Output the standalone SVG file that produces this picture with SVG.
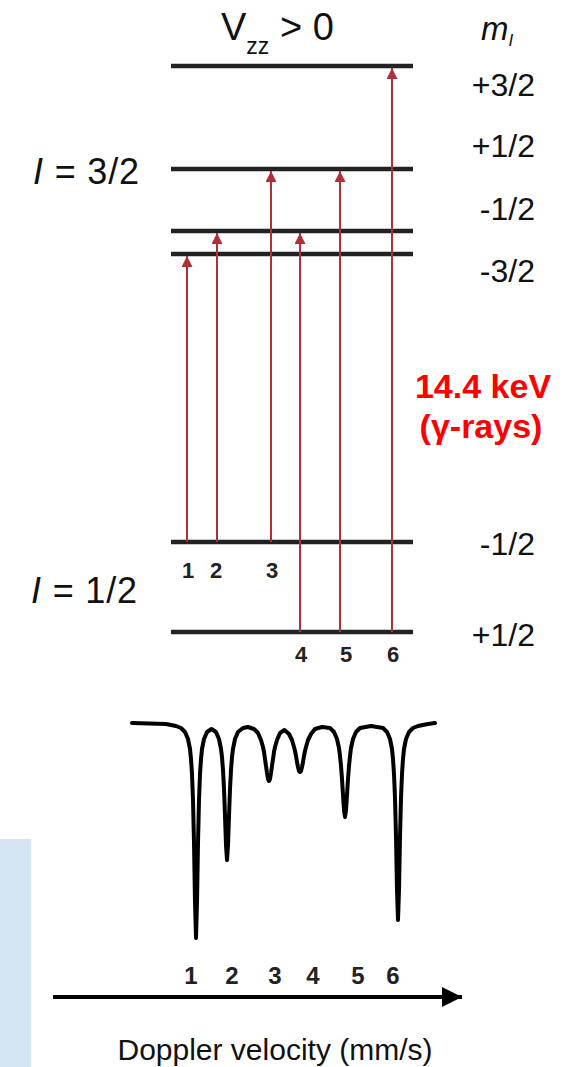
<svg xmlns="http://www.w3.org/2000/svg" width="566" height="1067" viewBox="0 0 566 1067">
<style>
.lvl{stroke:#222;stroke-width:4.5;fill:none}
.ray{stroke:#b0303a;stroke-width:2;fill:none;marker-end:url(#ah)}
.t{font-family:"Liberation Sans",Arial,sans-serif;fill:#111}
.ml{font-size:32px;text-anchor:end}
.num{font-family:"Liberation Sans",Arial,sans-serif;font-weight:bold;fill:#222;text-anchor:middle}
.red{font-family:"Liberation Sans",Arial,sans-serif;font-weight:bold;fill:#ff0000;font-size:34px;text-anchor:middle}
</style>
<defs>
<marker id="ah" viewBox="0 0 10 10" refX="10" refY="5" markerWidth="11" markerHeight="11" markerUnits="userSpaceOnUse" orient="auto">
<path d="M0,0 L10,5 L0,10 z" fill="#b0303a"/>
</marker>
<marker id="axh" viewBox="0 0 10 10" refX="10" refY="5" markerWidth="20" markerHeight="20" markerUnits="userSpaceOnUse" orient="auto">
<path d="M0,0 L10,5 L0,10 z" fill="#000"/>
</marker>
</defs>
<rect id="panel" x="0" y="839" width="31" height="228" fill="#d5e5f4"/>
<g id="title">
<text class="t" x="221" y="40" font-size="38">V<tspan font-size="23" dy="14">zz</tspan><tspan dy="-14"> &gt; 0</tspan></text>
<text class="t" x="481" y="40" font-size="33" font-style="italic">m<tspan font-size="17" dy="6">I</tspan></text>
</g>
<g id="levels">
<line class="lvl" x1="171" y1="66" x2="413" y2="66"/>
<line class="lvl" x1="171" y1="169" x2="413" y2="169"/>
<line class="lvl" x1="171" y1="231" x2="413" y2="231"/>
<line class="lvl" x1="171" y1="254" x2="413" y2="254"/>
<line class="lvl" x1="171" y1="542" x2="413" y2="542"/>
<line class="lvl" x1="171" y1="632" x2="413" y2="632"/>
</g>
<g id="labels">
<text class="t ml" x="535" y="96">+3/2</text>
<text class="t ml" x="535" y="157">+1/2</text>
<text class="t ml" x="535" y="220">-1/2</text>
<text class="t ml" x="535" y="282">-3/2</text>
<text class="t ml" x="535" y="555">-1/2</text>
<text class="t ml" x="535" y="646">+1/2</text>
<text class="t" x="33" y="184" font-size="36" textLength="106" lengthAdjust="spacing"><tspan font-style="italic">I</tspan> = 3/2</text>
<text class="t" x="31" y="603" font-size="36" textLength="106" lengthAdjust="spacing"><tspan font-style="italic">I</tspan> = 1/2</text>
</g>
<g id="connectors">
<line class="ray" x1="187" y1="542" x2="187" y2="256"/>
<line class="ray" x1="217" y1="542" x2="217" y2="233"/>
<line class="ray" x1="271" y1="542" x2="271" y2="171"/>
<line class="ray" x1="300" y1="632" x2="300" y2="233"/>
<line class="ray" x1="340" y1="632" x2="340" y2="171"/>
<line class="ray" x1="392" y1="632" x2="392" y2="68"/>
</g>
<g id="transition-numbers">
<text class="num" x="188" y="578" font-size="22">1</text>
<text class="num" x="216" y="578" font-size="22">2</text>
<text class="num" x="272" y="578" font-size="22">3</text>
<text class="num" x="301" y="662" font-size="22">4</text>
<text class="num" x="346" y="662" font-size="22">5</text>
<text class="num" x="393" y="662" font-size="22">6</text>
</g>
<g id="gamma">
<text class="red" x="483" y="398">14.4 keV</text>
<text class="red" x="481" y="438">(γ-rays)</text>
</g>
<g id="spectrum">
<polyline fill="none" stroke="#000" stroke-width="4" stroke-linejoin="round" stroke-linecap="round" points="132,723 166,724 176,726 181,728 185,732 188,739 190,749 191,759 192,774 193,800 194,843 195,902 196,938 197,902 198,843 199,800 200,774 201,759 202,749 204,739 207,732 211.5,729 216,732 219,739 221,749 222,757 223,770 224,789 225,816 226,845 227,860 228,845 229,816 230,789 231,770 232,757 233,749 235,739 238,732 243,728 248,727 254,729 258,733 261,740 263,747 264,752 265,759 266,766 267,773 268,779 269,781 270,779 271,773 272,766 273,759 274,752 275,747 277,740 280,733 284.5,730 289,734 292,740 294,747 295,751 296,756 297,762 298,767 299,771 300,772 301,771 302,767 303,762 304,756 305,751 306,747 308,740 311,734 315,729 322,727 330,728 334,732 337,739 339,748 340,756 341,766 342,779 343,795 344,810 345,817 346,810 347,795 348,779 349,766 350,756 351,748 353,739 356,732 360,728 371,726 383,728 387,732 390,739 392,749 393,759 394,774 395,798 396,837 397,890 398,920 399,890 400,837 401,798 402,774 403,759 404,749 406,739 409,732 413,728 418,726 428,724 435,723"/>
</g>
<g id="axis">
<line x1="53" y1="997" x2="462" y2="997" stroke="#000" stroke-width="4" marker-end="url(#axh)"/>
<text class="num" x="191" y="984" font-size="24">1</text>
<text class="num" x="232" y="984" font-size="24">2</text>
<text class="num" x="275" y="984" font-size="24">3</text>
<text class="num" x="313" y="984" font-size="24">4</text>
<text class="num" x="358" y="984" font-size="24">5</text>
<text class="num" x="393" y="984" font-size="24">6</text>
<text class="t" x="275" y="1060" font-size="30" text-anchor="middle">Doppler velocity (mm/s)</text>
</g>
</svg>
